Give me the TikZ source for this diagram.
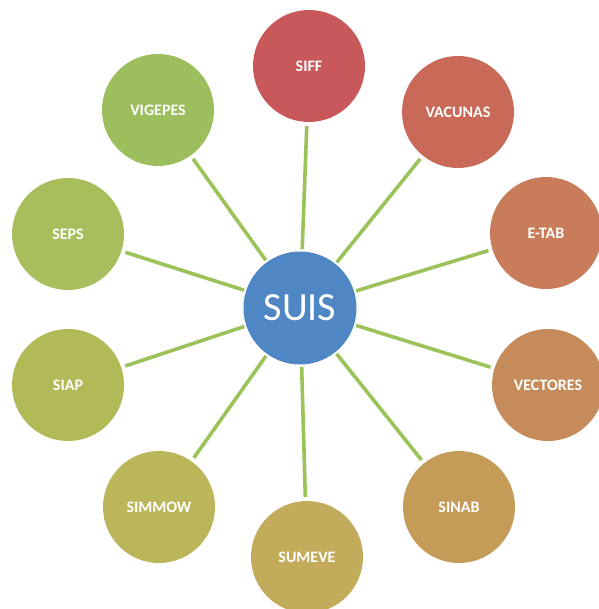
\documentclass[tikz,border=0pt]{standalone}
\usepackage{fontspec}
\setmainfont{Carlito}
\begin{document}
\begin{tikzpicture}[x=1pt,y=-1pt,
  hub/.style={circle,minimum size=112pt,inner sep=0pt,fill=#1,text=white,font=\fontsize{16}{18}\selectfont\bfseries},
  center/.style={circle,minimum size=113pt,inner sep=0pt,fill=suisblue,text=white,font=\fontsize{40}{44}\selectfont},
  spoke/.style={draw=linegreen,line width=3.6pt,shorten <=2pt,shorten >=4pt}]
\definecolor{suisblue}{HTML}{4F86C4}
\definecolor{linegreen}{HTML}{9BC35A}
\definecolor{cA}{HTML}{C9585B}
\definecolor{cB}{HTML}{C96A58}
\definecolor{cC}{HTML}{C97C5A}
\definecolor{cD}{HTML}{C68B5A}
\definecolor{cE}{HTML}{C59B58}
\definecolor{cF}{HTML}{C2AB5A}
\definecolor{cG}{HTML}{BCB65A}
\definecolor{cH}{HTML}{B2BA58}
\definecolor{cI}{HTML}{A8BE5C}
\definecolor{cJ}{HTML}{9DBE5D}
\useasboundingbox[fill=white] (0,0) rectangle (598,609);
\node[center] (suis) at (300,308) {SUIS};
\node[hub=cA] (siff) at (309,66) {SIFF};
\node[hub=cB] (vac) at (458,112) {VACUNAS};
\node[hub=cC] (etab) at (546,233) {E-TAB};
\node[hub=cD] (vec) at (548,385) {VECTORES};
\node[hub=cE] (sinab) at (459,507) {SINAB};
\node[hub=cF] (sumeve) at (307,557) {SUMEVE};
\node[hub=cG] (simmow) at (159,507) {SIMMOW};
\node[hub=cH] (siap) at (68,385) {SIAP};
\node[hub=cI] (seps) at (68,234) {SEPS};
\node[hub=cJ] (vig) at (158,110) {VIGEPES};
\foreach \n in {siff,vac,etab,vec,sinab,sumeve,simmow,siap,seps,vig}
  \draw[spoke] (suis) -- (\n);
\end{tikzpicture}
\end{document}
